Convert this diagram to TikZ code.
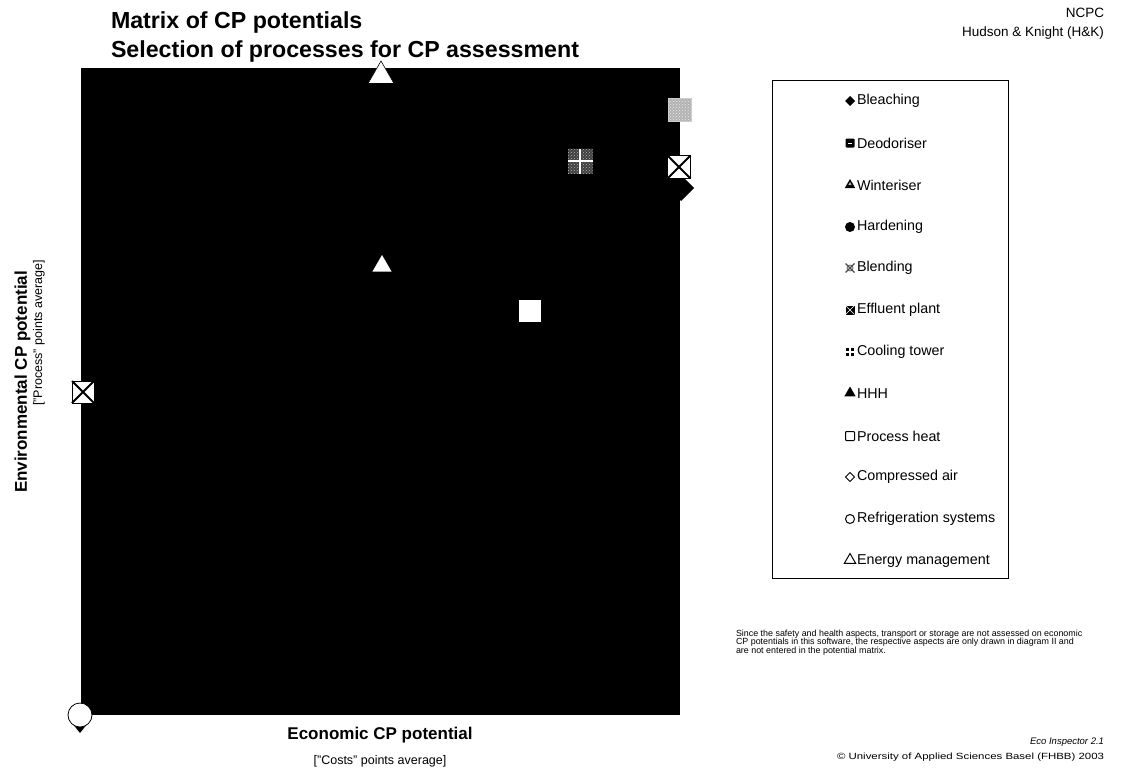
\documentclass[tikz,border=0pt]{standalone}
\usepackage{fontspec}
\setmainfont{Liberation Sans}
\usetikzlibrary{shapes.geometric,patterns}

\begin{document}
\begin{tikzpicture}[x=1pt,y=-1pt,
  every node/.style={inner sep=0pt, outer sep=0pt},
  titletext/.style={anchor=base west, font=\bfseries\fontsize{23.2}{25}\selectfont},
  headtext/.style={anchor=base east, font=\fontsize{13.5}{15}\selectfont},
  axistitle/.style={font=\bfseries\fontsize{17}{19}\selectfont},
  axissub/.style={font=\fontsize{12.5}{14}\selectfont},
  legtext/.style={anchor=west, font=\fontsize{14.3}{16}\selectfont},
  note/.style={anchor=north west, align=left, font=\fontsize{8.9}{8.3}\selectfont},
  credit/.style={anchor=base east, font=\fontsize{9}{10}\selectfont},
  % plot markers
  wtri/.style={regular polygon, regular polygon sides=3, fill=white, draw=black, line width=0.6pt},
  wsq/.style={rectangle, fill=white},
  xsq/.style={rectangle, fill=white, draw=black, line width=0.5pt},
  % legend symbols
  lsym/.style={fill=black},
]
\useasboundingbox (0,0) rectangle (1121,769);

% ---- headings ----
\node[titletext] (t1) at (111,28) {Matrix of CP potentials};
\node[titletext] (t2) at (111,57) {Selection of processes for CP assessment};
\node[headtext] (h1) at (1104,17) {NCPC};
\node[headtext] (h2) at (1104,36) {Hudson \& Knight (H\&K)};

% ---- matrix field ----
\fill[black] (81,68) rectangle (680,715);

% markers hidden by the field except where they overhang it
\node[diamond, fill=black, minimum width=26pt, minimum height=26pt] (bleach) at (681,188) {};
\node[diamond, fill=black, minimum width=24pt, minimum height=30pt] (bleach2) at (80,718) {};

% Energy management, top edge
\node[wtri, minimum size=30pt] (energy) at (381,76) {};
% Deodoriser
\node[rectangle, fill=gray!60, minimum size=23pt,
      postaction={pattern=crosshatch dots, pattern color=white!85!gray}] (deod) at (679.5,110) {};
\draw[gray!40, line width=0.4pt] (deod.north west) rectangle (deod.south east);
% Cooling tower
\node[rectangle, fill=black!75, minimum size=25pt,
      postaction={pattern=crosshatch dots, pattern color=gray!60}] (cool) at (580,161) {};
\draw[white, line width=2.2pt] (cool.north) -- (cool.south);
\draw[white, line width=2.2pt] (cool.west) -- (cool.east);
% Effluent plant, right edge
\node[xsq, minimum size=23pt] (eff) at (679,167) {};
\draw[line width=1.8pt] (eff.north west) -- (eff.south east);
\draw[line width=1.8pt] (eff.north east) -- (eff.south west);
% Winteriser
\node[regular polygon, regular polygon sides=3, fill=white, minimum size=22pt] (wint) at (382,266) {};
% Process heat
\node[wsq, minimum size=22pt] (heat) at (530,311) {};
% Blending, left edge
\node[xsq, minimum size=22pt] (blend) at (83,392) {};
\draw[line width=1.8pt] (blend.north west) -- (blend.south east);
\draw[line width=1.8pt] (blend.north east) -- (blend.south west);
% Refrigeration systems, origin
\node[circle, fill=white, draw=black, line width=0.8pt, minimum size=24pt] (refr) at (80,715) {};

% ---- axis titles ----
\node[axistitle, rotate=90, anchor=base] (ytitle) at (27,382) {Environmental CP potential};
\node[axissub, rotate=90, anchor=base] (ysub) at (42,333) {["Process" points average]};
\node[axistitle, anchor=base] (xtitle) at (380,739) {Economic CP potential};
\node[axissub, anchor=base] (xsub) at (380,764) {["Costs" points average]};

% ---- legend ----
\draw[line width=0.8pt] (772,80) rectangle (1008,578);

\node[diamond, lsym, minimum size=10pt] (s1) at (850,101) {};
\node[legtext] (l1) at (857,101) {Bleaching};

\node[rectangle, lsym, rounded corners=1pt, minimum size=9pt] (s2) at (850,143) {};
\draw[white, line width=0.6pt] ([xshift=-2pt]s2.center) -- ([xshift=2pt]s2.center);
\node[legtext] (l2) at (857,143) {Deodoriser};

\node[regular polygon, regular polygon sides=3, lsym, minimum size=12pt] (s3) at (850,185) {};
\node[regular polygon, regular polygon sides=3, fill=gray!60, minimum size=4pt] at ([yshift=1pt]s3.center) {};
\node[legtext] (l3) at (857,185) {Winteriser};

\node[circle, lsym, minimum size=10pt] (s4) at (850,227) {};
\node[legtext] (l4) at (857,227) {Hardening};

\node[rectangle, minimum size=9pt] (s5) at (850,268) {};
\draw[gray!60!black, line width=1.1pt] (s5.north west) -- (s5.south east);
\draw[gray!60!black, line width=1.1pt] (s5.north east) -- (s5.south west);
\draw[gray!60!black, line width=0.7pt] (s5.center) circle (3pt);
\node[legtext] (l5) at (857,268) {Blending};

\node[rectangle, lsym, minimum size=9pt] (s6) at (850,310) {};
\draw[white, line width=0.6pt] (s6.north west) -- (s6.south east);
\draw[white, line width=0.6pt] (s6.north east) -- (s6.south west);
\node[legtext] (l6) at (857,310) {Effluent plant};

\node[rectangle, minimum size=9pt] (s7) at (850,352) {};
\foreach \dx in {-1,1}{\foreach \dy in {-1,1}{
  \fill ([xshift=\dx*2.4pt,yshift=\dy*2.4pt]s7.center) ++(-1.8pt,-1.8pt) rectangle ++(3.6pt,3.6pt);
}}
\node[legtext] (l7) at (857,352) {Cooling tower};

\node[regular polygon, regular polygon sides=3, lsym, minimum size=13pt] (s8) at (850,393) {};
\node[legtext] (l8) at (857,394) {HHH};

\node[rectangle, draw=black, line width=1pt, rounded corners=0.8pt, minimum size=9pt] (s9) at (850,436) {};
\node[legtext] (l9) at (857,436) {Process heat};

\node[diamond, draw=black, line width=1pt, minimum size=9pt] (s10) at (850,477) {};
\node[legtext] (l10) at (857,477) {Compressed air};

\node[circle, draw=black, line width=1pt, minimum size=9pt] (s11) at (850,519) {};
\node[legtext] (l11) at (857,519) {Refrigeration systems};

\node[regular polygon, regular polygon sides=3, draw=black, line width=1pt, minimum size=13pt] (s12) at (850,560) {};
\node[legtext] (l12) at (857,561) {Energy management};

% ---- notes ----
\node[note] (fn) at (736,630) {Since the safety and health aspects, transport or storage are not assessed on economic\\
CP potentials in this software, the respective aspects are only drawn in diagram II and\\
are not entered in the potential matrix.};

\node[credit, font=\itshape\fontsize{9.5}{10}\selectfont] (c1) at (1104,744) {Eco Inspector 2.1};
\node[credit, xscale=1.27] (c2) at (1104,759) {\textcopyright\ University of Applied Sciences Basel (FHBB) 2003};
\end{tikzpicture}
\end{document}
